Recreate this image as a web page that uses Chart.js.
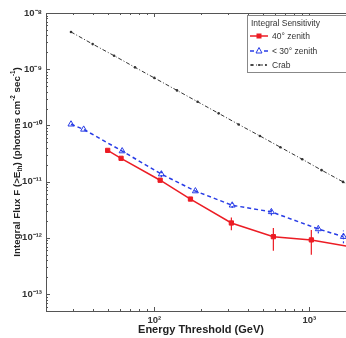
<!DOCTYPE html>
<html>
<head>
<meta charset="utf-8">
<script src="https://cdn.jsdelivr.net/npm/chart.js@4"></script>
<style>
  html, body { margin: 0; padding: 0; background: #fff; overflow: hidden; }
  #wrap { width: 366px; height: 338px; }
</style>
</head>
<body>
<div id="wrap"><canvas id="myChart"></canvas></div>
<script>
const FONT = '"Liberation Sans", Arial, sans-serif'

// tick labels
const xTicks = [100, 1000]
const xTickLabels = ['10²', '10³']
const yTicks = [1e-13, 1e-12, 1e-11, 1e-10, 1e-9, 1e-8]
const yTickLabels = ['10⁻¹³', '10⁻¹²', '10⁻¹¹', '10⁻¹⁰', '10⁻⁹', '10⁻⁸']

// 40 deg zenith
const e40 = [50, 61, 109, 171, 314, 586, 1030, 2100]
const f40 = [3.6e-11, 2.6e-11, 1.06e-11, 4.9e-12, 1.84e-12, 1.05e-12, 9.2e-13, 6.5e-13]
const f40Lo = [3.6e-11, 2.6e-11, 0.98e-11, 4.9e-12, 1.37e-12, 5.9e-13, 5.0e-13, 4.0e-13]
const f40Hi = [3.6e-11, 2.6e-11, 1.15e-11, 4.9e-12, 2.3e-12, 1.5e-12, 1.38e-12, 1.0e-12]

// < 30 deg zenith
const e30 = [29, 35, 62, 111, 184, 318, 569, 1143, 1660]
const f30 = [1.05e-10, 8.5e-11, 3.5e-11, 1.36e-11, 6.8e-12, 3.8e-12, 2.9e-12, 1.44e-12, 1.05e-12]
const f30Lo = [1.05e-10, 8.5e-11, 3.5e-11, 1.2e-11, 6.8e-12, 3.4e-12, 2.5e-12, 1.2e-12, 0.8e-12]
const f30Hi = [1.05e-10, 8.5e-11, 3.5e-11, 1.55e-11, 6.8e-12, 4.2e-12, 3.3e-12, 1.7e-12, 1.35e-12]

// Crab
const eCrab = [29, 40, 55, 75, 100, 140, 190, 260, 350, 480, 650, 900, 1200, 1650, 2000]
const fCrab = [4.6e-9, 2.8e-9, 1.74e-9, 1.08e-9, 7.0e-10, 4.2e-10, 2.64e-10, 1.64e-10, 1.04e-10, 6.5e-11, 4.1e-11, 2.5e-11, 1.6e-11, 9.9e-12, 7.4e-12]

const pts = (xs, ys) => xs.map((x, i) => ({ x: x, y: ys[i] }))

const RED = 'rgb(236, 28, 36)'
const BLUE = 'rgb(40, 60, 230)'
const BLACK = '#333'

const data = {
  datasets: [
    {
      label: '40° zenith',
      data: pts(e40, f40),
      errLo: f40Lo, errHi: f40Hi,
      showLine: true,
      borderColor: RED,
      backgroundColor: RED,
      borderWidth: 1.5,
      pointStyle: 'rect',
      pointRadius: 3,
      pointBorderWidth: 1,
    },
    {
      label: '< 30° zenith',
      data: pts(e30, f30),
      errLo: f30Lo, errHi: f30Hi,
      showLine: true,
      borderColor: BLUE,
      backgroundColor: 'rgba(255,255,255,0)',
      borderWidth: 1.5,
      borderDash: [4, 3],
      pointStyle: 'triangle',
      pointRadius: 3.5,
      pointBorderWidth: 1,
    },
    {
      label: 'Crab',
      data: pts(eCrab, fCrab),
      showLine: true,
      borderColor: BLACK,
      backgroundColor: BLACK,
      borderWidth: 1,
      borderDash: [4, 2, 1, 2],
      pointStyle: 'circle',
      pointRadius: 1.3,
      pointBorderWidth: 0,
    },
  ],
}

function drawRuns(ctx, runs, x, y, size) {
  // runs: [text, shift]  shift: 0 normal, 1 superscript, -1 subscript
  const fontOf = s => 'bold ' + (s ? size * 0.65 : size) + 'px ' + FONT
  const widths = runs.map(([t, s]) => { ctx.font = fontOf(s); return ctx.measureText(t).width })
  let cx = x - widths.reduce((a, b) => a + b, 0) / 2
  ctx.textAlign = 'left'
  ctx.textBaseline = 'middle'
  runs.forEach(([t, s], i) => {
    ctx.font = fontOf(s)
    const dy = s > 0 ? -size * 0.4 : s < 0 ? size * 0.3 : 0
    ctx.fillText(t, cx, y + dy)
    cx += widths[i]
  })
}

const frame = {
  id: 'frame',
  afterDraw(chart) {
    const { ctx, chartArea: a, scales: { x, y } } = chart
    ctx.save()
    ctx.strokeStyle = '#555'
    ctx.lineWidth = 1
    const seg = (x1, y1, x2, y2) => { ctx.beginPath(); ctx.moveTo(x1, y1); ctx.lineTo(x2, y2); ctx.stroke() }
    seg(a.left, a.top + 0.5, a.right, a.top + 0.5)
    seg(a.right - 0.5, a.top, a.right - 0.5, a.bottom)
    for (let e = Math.floor(Math.log10(x.min)); e <= Math.log10(x.max); e++) {
      for (let m = 1; m < 10; m++) {
        const v = m * Math.pow(10, e)
        if (v < x.min || v > x.max) continue
        const px = Math.round(x.getPixelForValue(v)) + 0.5
        const len = m === 1 ? 4 : 2
        seg(px, a.bottom, px, a.bottom - len)
        seg(px, a.top, px, a.top + len)
      }
    }
    for (let e = Math.floor(Math.log10(y.min)); e <= Math.log10(y.max) + 0.01; e++) {
      for (let m = 1; m < 10; m++) {
        const v = m * Math.pow(10, e)
        if (v < y.min * 0.999 || v > y.max * 1.001) continue
        const py = Math.round(y.getPixelForValue(v)) + 0.5
        const len = m === 1 ? 4 : 2
        seg(a.left, py, a.left + len, py)
        seg(a.right, py, a.right - len, py)
      }
    }

    // axis titles
    ctx.fillStyle = '#222'
    drawRuns(ctx, [['Energy Threshold (GeV)', 0]], (a.left + a.right) / 2, 330, 11)
    ctx.save()
    ctx.translate(17, (a.top + a.bottom) / 2)
    ctx.rotate(-Math.PI / 2)
    drawRuns(ctx, [['Integral Flux F (>E', 0], ['th', -1], [') (photons cm', 0], ['-2', 1], [' sec', 0], ['-1', 1], [')', 0]], 0, 0, 9.8)
    ctx.restore()

    // legend box
    const bx = 247, by = 15, bw = a.right - 247, bh = 58
    ctx.fillStyle = '#fff'
    ctx.fillRect(bx, by, bw, bh)
    ctx.strokeStyle = '#888'
    ctx.strokeRect(bx + 0.5, by + 0.5, bw - 1, bh - 1)
    ctx.fillStyle = '#333'
    ctx.font = '8.5px ' + FONT
    ctx.textAlign = 'left'
    ctx.textBaseline = 'middle'
    ctx.fillText('Integral Sensitivity', 251, 24)
    const rows = [36, 51, 65]
    chart.data.datasets.forEach((ds, i) => {
      const ly = rows[i]
      ctx.save()
      ctx.strokeStyle = ds.borderColor
      ctx.lineWidth = ds.borderWidth
      ctx.setLineDash(ds.borderDash || [])
      seg(250, ly, 268, ly)
      ctx.setLineDash([])
      ctx.lineWidth = 1
      if (ds.pointStyle === 'rect') {
        ctx.fillStyle = ds.borderColor
        ctx.fillRect(256.5, ly - 2.5, 5, 5)
      } else if (ds.pointStyle === 'triangle') {
        ctx.fillStyle = '#fff'
        ctx.beginPath(); ctx.moveTo(259, ly - 3.5); ctx.lineTo(262, ly + 2); ctx.lineTo(256, ly + 2); ctx.closePath()
        ctx.fill(); ctx.stroke()
      } else {
        ctx.fillStyle = ds.borderColor
        for (const dx of [252, 259, 266]) { ctx.beginPath(); ctx.arc(dx, ly, 1.1, 0, Math.PI * 2); ctx.fill() }
      }
      ctx.restore()
      ctx.fillStyle = '#333'
      ctx.font = '8.5px ' + FONT
      ctx.fillText(ds.label, 272, ly + 0.5)
    })
    ctx.restore()
  },
}

const errorBars = {
  id: 'errorBars',
  beforeDatasetsDraw(chart) {
    const { ctx, chartArea: a, scales: { x, y } } = chart
    ctx.save()
    ctx.beginPath()
    ctx.rect(a.left, a.top, a.right - a.left, a.bottom - a.top)
    ctx.clip()
    chart.data.datasets.forEach(ds => {
      if (!ds.errLo) return
      ctx.strokeStyle = ds.borderColor
      ctx.lineWidth = 1.2
      ctx.setLineDash(ds.borderDash ? [2, 2] : [])
      ds.data.forEach((p, i) => {
        if (ds.errLo[i] === ds.errHi[i]) return
        const px = x.getPixelForValue(p.x)
        ctx.beginPath()
        ctx.moveTo(px, y.getPixelForValue(ds.errLo[i]))
        ctx.lineTo(px, y.getPixelForValue(ds.errHi[i]))
        ctx.stroke()
      })
    })
    ctx.restore()
  },
}

const tickFont = { family: FONT, size: 9.5, weight: 'bold' }

const config = {
  type: 'scatter',
  data: data,
  options: {
    responsive: true,
    maintainAspectRatio: false,
    animation: false,
    layout: { padding: { top: 13, right: 10, left: 0, bottom: 0 } },
    plugins: {
      legend: { display: false },
      tooltip: { enabled: false },
    },
    scales: {
      x: {
        type: 'logarithmic',
        min: 20,
        max: 2000,
        afterBuildTicks: s => { s.ticks = xTicks.map(v => ({ value: v })) },
        afterFit: s => { s.height = 27 },
        grid: { display: false, drawTicks: false },
        border: { color: '#555' },
        ticks: {
          callback: (v, i) => xTickLabels[i],
          font: tickFont, color: '#333', padding: 4, maxRotation: 0, autoSkip: false,
        },
      },
      y: {
        type: 'logarithmic',
        min: 5e-14,
        max: 1e-8,
        afterBuildTicks: s => { s.ticks = yTicks.map(v => ({ value: v })) },
        afterFit: s => { s.width = 46 },
        grid: { display: false, drawTicks: false },
        border: { color: '#555' },
        ticks: {
          callback: (v, i) => yTickLabels[i],
          font: tickFont, color: '#333', padding: 4, autoSkip: false,
        },
      },
    },
  },
  plugins: [errorBars, frame],
}

var myChart = new Chart(document.getElementById('myChart'), config)
</script>
</body>
</html>
